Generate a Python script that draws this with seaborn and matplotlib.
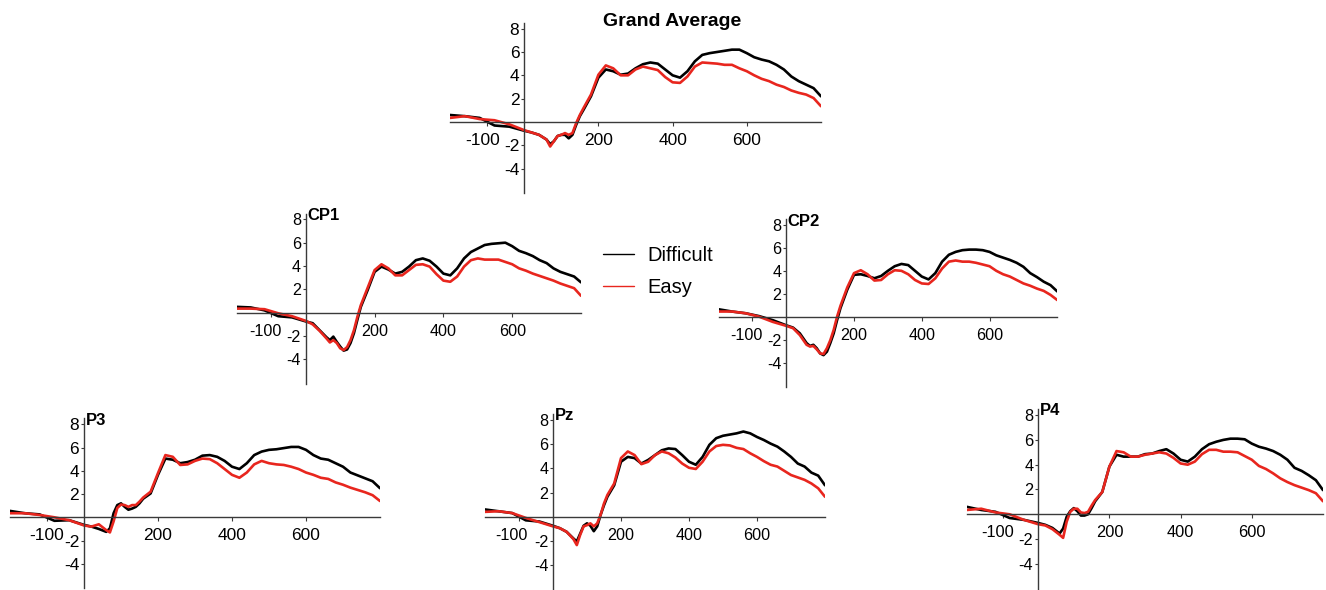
import matplotlib
matplotlib.use("Agg")
import matplotlib.pyplot as plt
import matplotlib.transforms as mtransforms
import seaborn as sns
import pandas as pd

# ---------------- data ----------------
times = [-200, -160, -120, -80, -40, 0, 20, 40, 60, 70, 80, 90, 100, 110, 120, 130,
         140, 150, 160, 180, 200, 220, 240, 260, 280, 300, 320, 340, 360, 380, 400,
         420, 440, 460, 480, 500, 520, 540, 560, 580, 600, 620, 640, 660, 680, 700,
         720, 740, 760, 780, 800]

ga_difficult = [0.6, 0.5, 0.35, -0.3, -0.4, -0.75, -0.9, -1.1, -1.5, -1.9, -1.65, -1.2, -1.1, -1.1, -1.4, -1.1, -0.25, 0.5, 1.05,
                2.2, 3.8, 4.5, 4.35, 4.05, 4.15, 4.6, 4.95, 5.1, 5.0, 4.5, 4.0, 3.8, 4.35, 5.2, 5.75, 5.9, 6.0, 6.1, 6.2, 6.2,
                5.9, 5.55, 5.35, 5.2, 4.9, 4.5, 3.9, 3.5, 3.2, 2.9, 2.2]
ga_easy = [0.35, 0.5, 0.25, 0.15, -0.2, -0.7, -0.9, -1.1, -1.5, -2.1, -1.65, -1.2, -1.1, -0.95, -1.1, -0.95, -0.1, 0.6, 1.2,
           2.35, 4.05, 4.85, 4.6, 4.0, 4.0, 4.5, 4.75, 4.6, 4.45, 3.85, 3.4, 3.35, 3.9, 4.75, 5.1, 5.05, 5.0, 4.9, 4.9, 4.6,
           4.35, 4.0, 3.7, 3.5, 3.2, 3.0, 2.7, 2.5, 2.35, 2.05, 1.35]

cp1_difficult = [0.5, 0.45, 0.2, -0.3, -0.4, -0.75, -0.9, -1.5, -2.1, -2.35, -2.05, -2.5, -2.9, -3.25, -3.15, -2.6, -1.75, -0.6, 0.5,
                 1.95, 3.5, 3.95, 3.7, 3.35, 3.5, 3.95, 4.5, 4.65, 4.45, 3.95, 3.35, 3.2, 3.8, 4.65, 5.2, 5.5, 5.8, 5.9, 5.95, 6.0,
                 5.7, 5.3, 5.1, 4.85, 4.5, 4.25, 3.8, 3.5, 3.3, 3.1, 2.6]
cp1_easy = [0.35, 0.35, 0.3, -0.05, -0.3, -0.7, -1.0, -1.55, -2.2, -2.55, -2.35, -2.6, -3.05, -3.2, -2.95, -2.35, -1.5, -0.35, 0.65,
            2.15, 3.65, 4.15, 3.8, 3.2, 3.2, 3.65, 4.1, 4.15, 3.95, 3.3, 2.75, 2.65, 3.1, 3.95, 4.5, 4.65, 4.55, 4.55, 4.55, 4.35,
            4.15, 3.8, 3.6, 3.35, 3.15, 2.95, 2.75, 2.5, 2.3, 2.1, 1.45]

cp2_difficult = [0.65, 0.45, 0.3, 0.05, -0.3, -0.75, -0.95, -1.45, -2.3, -2.55, -2.45, -2.75, -3.2, -3.35, -3.05, -2.3, -1.45, -0.3, 0.75,
                 2.35, 3.65, 3.7, 3.55, 3.35, 3.55, 4.0, 4.4, 4.6, 4.5, 4.0, 3.5, 3.25, 3.8, 4.8, 5.4, 5.65, 5.8, 5.85, 5.85, 5.8,
                 5.65, 5.35, 5.15, 4.95, 4.7, 4.35, 3.8, 3.45, 3.05, 2.75, 2.2]
cp2_easy = [0.45, 0.45, 0.3, 0.0, -0.45, -0.8, -1.0, -1.6, -2.45, -2.6, -2.55, -2.85, -3.2, -3.25, -2.75, -2.05, -1.15, 0.0, 0.95,
            2.55, 3.8, 4.05, 3.7, 3.15, 3.2, 3.7, 4.05, 4.0, 3.7, 3.2, 2.9, 2.85, 3.35, 4.2, 4.8, 4.9, 4.8, 4.8, 4.7, 4.55,
            4.4, 4.0, 3.7, 3.5, 3.2, 2.9, 2.7, 2.45, 2.25, 1.9, 1.45]

p3_difficult = [0.55, 0.35, 0.25, -0.3, -0.25, -0.65, -0.8, -1.0, -1.25, -0.95, 0.35, 1.05, 1.2, 0.9, 0.65, 0.75, 0.9, 1.2, 1.6,
                2.05, 3.65, 5.05, 4.95, 4.65, 4.75, 4.95, 5.3, 5.35, 5.2, 4.85, 4.35, 4.15, 4.65, 5.35, 5.65, 5.8, 5.85, 5.95, 6.05, 6.05,
                5.8, 5.35, 5.05, 4.95, 4.65, 4.35, 3.85, 3.6, 3.35, 3.1, 2.5]
p3_easy = [0.35, 0.35, 0.2, 0.0, -0.25, -0.7, -0.8, -0.6, -1.1, -1.3, -0.35, 0.8, 1.1, 1.05, 0.9, 1.05, 1.05, 1.35, 1.7,
           2.2, 3.8, 5.35, 5.2, 4.5, 4.55, 4.85, 5.05, 5.0, 4.65, 4.15, 3.65, 3.4, 3.85, 4.55, 4.85, 4.65, 4.55, 4.5, 4.35, 4.15,
           3.85, 3.65, 3.4, 3.3, 3.0, 2.8, 2.55, 2.35, 2.15, 1.9, 1.4]

pz_difficult = [0.6, 0.45, 0.3, -0.3, -0.4, -0.75, -0.95, -1.25, -1.8, -2.05, -1.4, -0.75, -0.55, -0.75, -1.2, -0.8, 0.15, 0.95, 1.65,
                2.6, 4.55, 4.95, 4.85, 4.4, 4.7, 5.1, 5.5, 5.65, 5.6, 5.1, 4.55, 4.3, 4.95, 5.95, 6.5, 6.7, 6.8, 6.9, 7.05, 6.9,
                6.6, 6.35, 6.05, 5.8, 5.4, 4.95, 4.4, 4.15, 3.65, 3.4, 2.6]
pz_easy = [0.4, 0.45, 0.3, -0.1, -0.45, -0.8, -0.95, -1.25, -1.85, -2.35, -1.5, -0.8, -0.7, -0.55, -0.8, -0.55, 0.15, 1.1, 1.8,
           2.75, 4.85, 5.4, 5.1, 4.35, 4.55, 5.1, 5.4, 5.25, 4.9, 4.4, 4.05, 3.95, 4.55, 5.4, 5.85, 5.95, 5.9, 5.7, 5.6, 5.25,
           4.95, 4.6, 4.3, 4.15, 3.8, 3.45, 3.25, 3.05, 2.75, 2.35, 1.65]

p4_difficult = [0.6, 0.35, 0.2, -0.3, -0.45, -0.7, -0.85, -1.1, -1.55, -1.15, -0.2, 0.25, 0.5, 0.25, -0.1, -0.1, 0.0, 0.5, 1.05,
                1.8, 3.85, 4.8, 4.65, 4.65, 4.65, 4.85, 4.9, 5.1, 5.25, 4.9, 4.4, 4.25, 4.65, 5.25, 5.65, 5.85, 6.0, 6.1, 6.1, 6.05,
                5.7, 5.45, 5.3, 5.1, 4.8, 4.4, 3.75, 3.5, 3.15, 2.75, 1.95]
p4_easy = [0.35, 0.45, 0.15, 0.0, -0.45, -0.8, -0.9, -1.2, -1.65, -1.9, -0.6, 0.2, 0.45, 0.45, 0.15, 0.1, 0.2, 0.7, 1.15,
           1.8, 3.85, 5.1, 5.0, 4.65, 4.65, 4.8, 4.9, 5.0, 4.9, 4.55, 4.1, 4.0, 4.25, 4.85, 5.2, 5.2, 5.05, 5.05, 5.0, 4.7,
           4.4, 3.9, 3.65, 3.3, 2.9, 2.6, 2.35, 2.15, 1.95, 1.7, 1.05]

panel_names = ["Grand Average", "CP1", "CP2", "P3", "Pz", "P4"]
conditions = ["Difficult", "Easy"]
series = {
    "Grand Average": (ga_difficult, ga_easy),
    "CP1": (cp1_difficult, cp1_easy),
    "CP2": (cp2_difficult, cp2_easy),
    "P3": (p3_difficult, p3_easy),
    "Pz": (pz_difficult, pz_easy),
    "P4": (p4_difficult, p4_easy),
}
x_tick_values = [-100, 200, 400, 600]
x_tick_labels = ["-100", "200", "400", "600"]
y_tick_values = [-4, -2, 2, 4, 6, 8]
y_tick_labels = ["-4", "-2", "2", "4", "6", "8"]

# ---------------- style ----------------
sns.set_theme(style="white")
plt.rcParams["font.family"] = ["Liberation Sans", "DejaVu Sans"]
plt.rcParams["axes.unicode_minus"] = False
plt.rcParams["text.color"] = "black"
plt.rcParams["xtick.color"] = "black"
plt.rcParams["ytick.color"] = "black"
plt.rcParams["xtick.labelcolor"] = "black"
plt.rcParams["ytick.labelcolor"] = "black"

W, H = 1326, 590
fig = plt.figure(figsize=(W / 100, H / 100), dpi=100)
fig.patch.set_facecolor("white")

XLIM = (-200, 800)
YLIM = (-6.1, 8.5)
palette = {"Difficult": "#000000", "Easy": "#e8261e"}

# pixel layout: x-left, x-right, y of zero line, px per unit, tick font size, "-100" shift (px)
layout = {
    "Grand Average": (450, 821, 122.0, 11.67, 12.5, -4),
    "CP1": (237, 581, 312.7, 11.67, 11.6, -6),
    "CP2": (718.5, 1057.3, 316.7, 11.47, 11.6, -5.5),
    "P3": (10, 380, 517.3, 11.63, 12.5, 0),
    "Pz": (485, 825, 516.7, 12.08, 11.6, -8),
    "P4": (967, 1323, 514.3, 12.4, 11.8, -5),
}

for name in panel_names:
    x0, x1, yz, sc, fs, shift = layout[name]
    top = yz - YLIM[1] * sc
    bot = yz - YLIM[0] * sc
    ax = fig.add_axes([x0 / W, 1 - bot / H, (x1 - x0) / W, (bot - top) / H])
    ax.patch.set_alpha(0)
    d, e = series[name]
    df = pd.DataFrame({
        "time": times + times,
        "amp": d + e,
        "Condition": [conditions[0]] * len(times) + [conditions[1]] * len(times),
    })
    sns.lineplot(data=df, x="time", y="amp", hue="Condition", hue_order=conditions,
                 palette=palette, estimator=None, linewidth=1.9, legend=False, ax=ax)
    ax.set_xlim(*XLIM)
    ax.set_ylim(*YLIM)
    ax.set_xlabel("")
    ax.set_ylabel("")
    for s in ["top", "right"]:
        ax.spines[s].set_visible(False)
    ax.spines["left"].set_position(("data", 0))
    ax.spines["bottom"].set_position(("data", 0))
    for s in ["left", "bottom"]:
        ax.spines[s].set_color("#3a3a3a")
        ax.spines[s].set_linewidth(1.0)
    ax.set_xticks(x_tick_values)
    ax.set_xticklabels(x_tick_labels)
    ax.set_yticks(y_tick_values)
    ax.set_yticklabels(y_tick_labels)
    ax.tick_params(axis="x", direction="out", length=3, width=0.8, color="#3a3a3a",
                   pad=5, labelsize=fs, bottom=True)
    ax.tick_params(axis="y", direction="out", length=2.5, width=0.8, color="#3a3a3a",
                   pad=1, labelsize=fs, left=True)
    ax.grid(False)
    lab = ax.get_xticklabels()[0]
    lab.set_transform(lab.get_transform() +
                      mtransforms.ScaledTranslation(shift / 100, 0, fig.dpi_scale_trans))
    if name == "Grand Average":
        fig.text(672 / W, 1 - 21 / H, name, ha="center", va="center",
                 fontsize=14, fontweight="bold")
    else:
        ax.annotate(name, xy=(0, YLIM[1]), xycoords="data", xytext=(1, 4),
                    textcoords="offset points", ha="left", va="top",
                    fontsize=12, fontweight="bold")

# legend
handles = [plt.Line2D([], [], color=palette[c], lw=1.0) for c in conditions]
fig.legend(handles, conditions, loc="upper left",
           bbox_to_anchor=(603 / W, 1 - 246 / H), frameon=False,
           fontsize=14.5, handlelength=1.55, handletextpad=0.65,
           labelspacing=0.65, borderpad=0, borderaxespad=0)

fig.savefig("out.png", dpi=100, facecolor="white")
